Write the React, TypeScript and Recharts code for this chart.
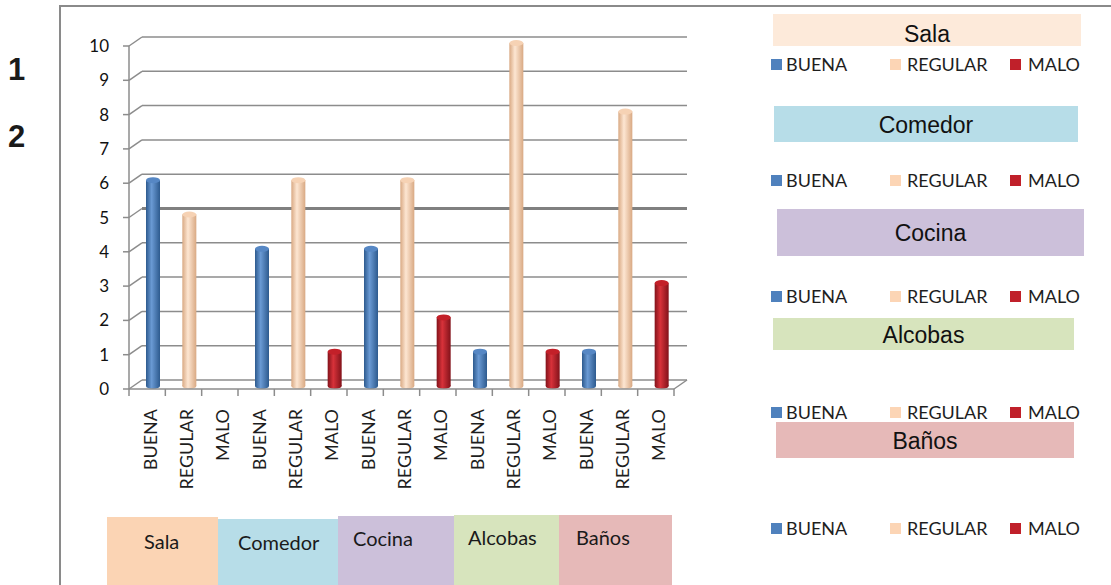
import React from 'react';
import { BarChart, Bar, XAxis, YAxis, CartesianGrid } from 'recharts';

const rooms = ['Sala', 'Comedor', 'Cocina', 'Alcobas', 'Baños'];
const ratings = ['BUENA', 'REGULAR', 'MALO'];
const buena = [6, 4, 4, 1, 1];
const regular = [5, 6, 6, 10, 8];
const malo = [0, 1, 2, 1, 3];
const yTicks = [0, 1, 2, 3, 4, 5, 6, 7, 8, 9, 10];

const ratingColors: Record<string, { edge: string; mid: string; top: string; swatch: string }> = {
  BUENA: { edge: '#2d5a8e', mid: '#6a9ad4', top: '#5687c4', swatch: '#4f81bd' },
  REGULAR: { edge: '#d9a983', mid: '#fde6d2', top: '#f6d2b4', swatch: '#fcd5b5' },
  MALO: { edge: '#82121a', mid: '#d8323a', top: '#c32029', swatch: '#c0202a' },
};

const roomBoxColors = ['#fbd4b4', '#b7dde8', '#ccc0da', '#d7e4bd', '#e6b9b8'];
const titleBoxColors = ['#fdeada', '#b7dde8', '#ccc0da', '#d7e4bd', '#e6b9b8'];

const series = [buena, regular, malo];
const data = rooms.flatMap((room, i) =>
  ratings.map((r, j) => ({ key: `${room}-${r}`, rating: r, value: series[j][i] }))
);

// plot geometry (front face of the 3D box)
const PLOT_LEFT = 129;
const PLOT_RIGHT = 674;
const PLOT_TOP = 46;
const FLOOR_Y = 389;
const DEPTH_X = 13;
const DEPTH_Y = -9;
const BAND = (PLOT_RIGHT - PLOT_LEFT) / data.length;
const UNIT = (FLOOR_Y - PLOT_TOP) / 10;

const GRID = '#8c8c8c';
const LABEL_FONT = 'Lato, "Open Sans", sans-serif';

const Cylinder = (props: any) => {
  const { x, y, width, height, payload } = props;
  if (!height || height <= 0) return null;
  const w = width;
  const cx = x + w / 2 + 6;
  const top = y - 3;
  const bottom = y + height - 3;
  const ry = 3;
  const fill = `url(#cyl-${payload.rating})`;
  return (
    <g>
      <ellipse cx={cx} cy={bottom} rx={w / 2} ry={ry} fill={fill} />
      <rect x={cx - w / 2} y={top} width={w} height={bottom - top} fill={fill} />
      <ellipse cx={cx} cy={top} rx={w / 2} ry={ry} fill={ratingColors[payload.rating].top} />
    </g>
  );
};

const gridLine = (p: any) => {
  const { x1, y1, x2, key } = p;
  const value = Math.round((FLOOR_Y - y1) / UNIT);
  const isFloor = value === 0;
  const thick = value === 5;
  return (
    <g key={key}>
      <line x1={x1} y1={y1} x2={x1 + DEPTH_X} y2={y1 + DEPTH_Y} stroke={GRID} strokeWidth={1.5} />
      <line
        x1={x1 + DEPTH_X}
        y1={y1 + DEPTH_Y}
        x2={x2 + DEPTH_X}
        y2={y1 + DEPTH_Y}
        stroke={thick ? '#808080' : GRID}
        strokeWidth={thick ? 2.8 : 1.5}
      />
      {isFloor && (
        <line x1={x2} y1={y1} x2={x2 + DEPTH_X} y2={y1 + DEPTH_Y} stroke={GRID} strokeWidth={1.5} />
      )}
    </g>
  );
};

const XTick = (props: any) => {
  const { x, payload } = props;
  const idx = payload.index ?? props.index;
  const item = data[idx];
  const left = x - BAND / 2;
  const tx = x + 3;
  const ty = 409;
  return (
    <g>
      <line x1={left} y1={FLOOR_Y} x2={left} y2={FLOOR_Y + 7} stroke={GRID} strokeWidth={1.5} />
      {idx === data.length - 1 && (
        <line x1={left + BAND} y1={FLOOR_Y} x2={left + BAND} y2={FLOOR_Y + 7} stroke={GRID} strokeWidth={1.5} />
      )}
      <text
        x={tx}
        y={ty}
        dy="0.36em"
        transform={`rotate(-90, ${tx}, ${ty})`}
        textAnchor="end"
        fontFamily={LABEL_FONT}
        fontSize={18}
        fill="#1e1e1e"
      >
        {item ? item.rating : ''}
      </text>
    </g>
  );
};

const legendRows = [64, 180, 296, 412, 528];
const titleBoxes = [
  { left: 773, top: 14, width: 308, height: 32 },
  { left: 774, top: 106, width: 304, height: 36 },
  { left: 777, top: 209, width: 307, height: 47 },
  { left: 773, top: 318, width: 301, height: 32 },
  { left: 776, top: 422, width: 298, height: 36 },
];
const roomBoxes = [
  { left: 107, top: 517, width: 111, textLeft: 37, textY: 541 },
  { left: 218, top: 519, width: 120, textLeft: 20, textY: 542 },
  { left: 338, top: 516, width: 116, textLeft: 15, textY: 538 },
  { left: 454, top: 515, width: 105, textLeft: 14, textY: 537 },
  { left: 559, top: 515, width: 113, textLeft: 17, textY: 537 },
];
const legendItems = [
  { square: 771, text: 786 },
  { square: 890, text: 907 },
  { square: 1010, text: 1028 },
];

export default function App() {
  return (
    <div style={{ position: 'absolute', left: 0, top: 0, width: 1111, height: 585, background: '#fff', overflow: 'hidden' }}>
      {/* frame */}
      <div style={{ position: 'absolute', left: 59, top: 5, width: 1052, height: 2, background: '#8a8a8a' }} />
      <div style={{ position: 'absolute', left: 59, top: 5, width: 2, height: 580, background: '#8a8a8a' }} />
      {['1', '2'].map((n, i) => (
        <div
          key={n}
          style={{
            position: 'absolute',
            left: 8,
            top: i === 0 ? 70 - 18 : 137 - 18,
            fontFamily: '"Liberation Sans", Arial, sans-serif',
            fontWeight: 'bold',
            fontSize: 31,
            lineHeight: '36px',
            color: '#1a1a1a',
          }}
        >
          {n}
        </div>
      ))}

      {/* room boxes under the chart */}
      {rooms.map((room, i) => {
        const b = roomBoxes[i];
        return (
          <div
            key={room}
            style={{
              position: 'absolute',
              left: b.left,
              top: b.top,
              width: b.width,
              height: 585 - b.top,
              background: roomBoxColors[i],
            }}
          >
            <div
              style={{
                position: 'absolute',
                left: b.textLeft,
                top: b.textY - b.top - 12,
                lineHeight: '24px',
                fontFamily: LABEL_FONT,
                fontSize: 20,
                color: '#1a1a1a',
                whiteSpace: 'nowrap',
              }}
            >
              {room}
            </div>
          </div>
        );
      })}

      {/* legends on the right */}
      {rooms.map((room, i) => {
        const t = titleBoxes[i];
        return (
          <div
            key={room}
            style={{
              position: 'absolute',
              left: t.left,
              top: t.top,
              width: t.width,
              height: t.height,
              background: titleBoxColors[i],
              display: 'flex',
              alignItems: 'center',
              justifyContent: 'center',
              paddingTop: i === 0 ? 8 : 2,
              boxSizing: 'border-box',
              fontFamily: '"Liberation Sans", Arial, sans-serif',
              fontSize: 23,
              color: '#111',
            }}
          >
            {room}
          </div>
        );
      })}
      {legendRows.map((rowY) =>
        ratings.map((r, j) => (
          <React.Fragment key={`${rowY}-${r}`}>
            <div
              style={{
                position: 'absolute',
                left: legendItems[j].square,
                top: rowY - 5.5,
                width: 11,
                height: 11,
                background: ratingColors[r].swatch,
              }}
            />
            <div
              style={{
                position: 'absolute',
                left: legendItems[j].text,
                top: rowY - 12,
                lineHeight: '24px',
                fontFamily: LABEL_FONT,
                fontSize: 18,
                color: '#1e1e1e',
                whiteSpace: 'nowrap',
              }}
            >
              {r}
            </div>
          </React.Fragment>
        ))
      )}

      <div style={{ position: 'absolute', left: 0, top: 0 }}>
        <BarChart
          width={1111}
          height={585}
          data={data}
          margin={{ top: PLOT_TOP, right: 1111 - PLOT_RIGHT, bottom: 585 - FLOOR_Y - 100, left: PLOT_LEFT - 60 }}
          barSize={14}
        >
          <defs>
            {ratings.map((r) => (
              <linearGradient key={r} id={`cyl-${r}`} x1="0" y1="0" x2="1" y2="0">
                <stop offset="0%" stopColor={ratingColors[r].edge} />
                <stop offset="40%" stopColor={ratingColors[r].mid} />
                <stop offset="100%" stopColor={ratingColors[r].edge} />
              </linearGradient>
            ))}
          </defs>
          <CartesianGrid vertical={false} horizontal={gridLine} />
          <YAxis
            width={60}
            domain={[0, 10]}
            ticks={yTicks}
            interval={0}
            tickSize={6}
            tickMargin={14}
            axisLine={{ stroke: GRID, strokeWidth: 1.5 }}
            tickLine={{ stroke: GRID, strokeWidth: 1.5 }}
            tick={{ fontFamily: LABEL_FONT, fontSize: 17, fill: '#111' }}
          />
          <XAxis
            dataKey="key"
            height={100}
            interval={0}
            tickLine={false}
            axisLine={{ stroke: GRID, strokeWidth: 1.5 }}
            tick={<XTick />}
          />
          <Bar dataKey="value" shape={<Cylinder />} isAnimationActive={false} />
        </BarChart>
      </div>
    </div>
  );
}
